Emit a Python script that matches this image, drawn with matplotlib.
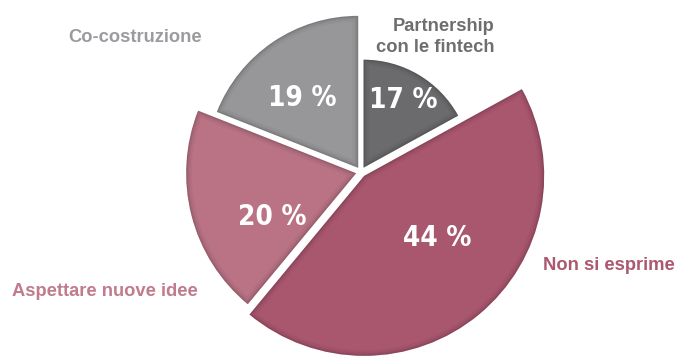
import numpy as np
import matplotlib.pyplot as plt
from matplotlib.patches import Wedge

# survey shares, clockwise from 12 o'clock
categories = ['Partnership\ncon le fintech', 'Non si esprime', 'Aspettare nuove idee', 'Co-costruzione']
shares = [17, 44, 20, 19]
pct_labels = ['17 %', '44 %', '20 %', '19 %']

colors = ['#6b6b6e', '#a9566f', '#b97385', '#97979a']
label_colors = ['#6e6e71', '#ab5870', '#c07b8d', '#9b9b9f']
radii = [108, 180, 170, 152]

W, H = 676, 356
fig = plt.figure(figsize=(W / 100, H / 100), dpi=100)
ax = fig.add_axes([0, 0, 1, 1])
ax.axis('off')

center = (361, 184)
wedges, _ = ax.pie(shares, startangle=90, counterclock=False, colors=colors,
                   center=center, radius=100, explode=[5, 5, 5, 5],
                   wedgeprops=dict(linewidth=0))
ax.set_xlim(0, W)
ax.set_ylim(0, H)
ax.set_aspect('equal')

for w, r in zip(wedges, radii):
    w.set_radius(r)
    # soft inner shadow along the rim
    for lw, a in [(8, 0.04), (4.5, 0.06), (2, 0.09)]:
        rim = Wedge(w.center, r, w.theta1, w.theta2, facecolor='none',
                    edgecolor='black', linewidth=lw, alpha=a)
        ax.add_patch(rim)
        rim.set_clip_path(w)

# percentage labels inside the slices
pct_pos = [(403, 256), (437, 118), (272, 139), (302, 258)]
for (x, y), t in zip(pct_pos, pct_labels):
    ax.text(x, y, t, ha='center', va='center', color='white', fontsize=20,
            fontweight='bold', family='DejaVu Sans', fontstretch='condensed')

# category names around the pie
name_pos = [(495, 319, 'right'), (609, 91, 'center'), (105, 65, 'center'), (135, 318, 'center')]
for (x, y, ha), name, c in zip(name_pos, categories, label_colors):
    ax.text(x, y, name, ha=ha, va='center', color=c, fontsize=13.2,
            fontweight='bold', family='Liberation Sans', linespacing=1.3)

fig.savefig('out.png', dpi=100, facecolor='white')
